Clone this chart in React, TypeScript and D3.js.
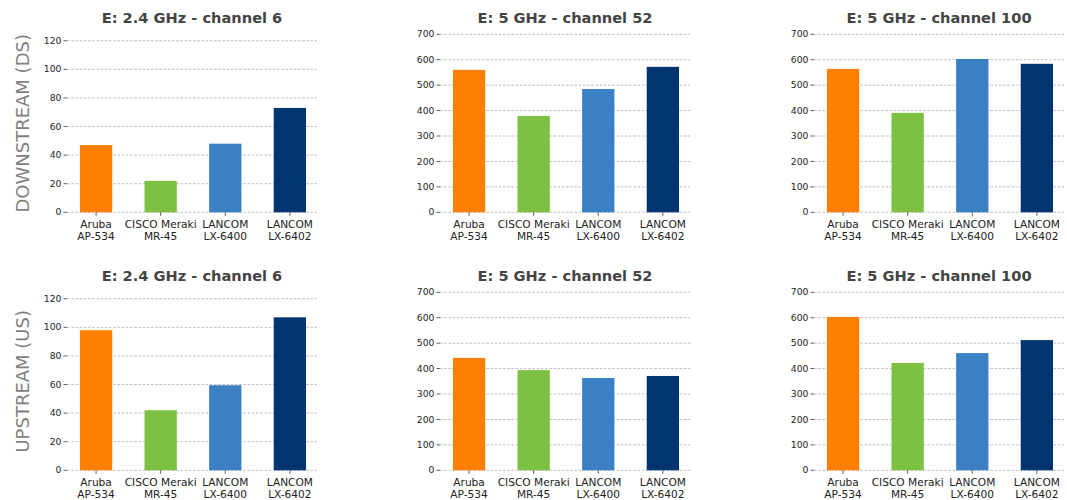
import React from "react";
import * as d3 from "d3";

const categories: string[][] = [
  ["Aruba", "AP-534"],
  ["CISCO Meraki", "MR-45"],
  ["LANCOM", "LX-6400"],
  ["LANCOM", "LX-6402"],
];
const barColors = ["#ff8000", "#7dc142", "#3b80c4", "#003570"];
const titles = ["E: 2.4 GHz - channel 6", "E: 5 GHz - channel 52", "E: 5 GHz - channel 100"];
const rowLabels = ["DOWNSTREAM (DS)", "UPSTREAM (US)"];

const ds24 = [47, 22, 48, 73];
const ds52 = [560, 379, 485, 572];
const ds100 = [564, 391, 603, 584];
const us24 = [98, 42, 59.5, 107];
const us52 = [442, 394, 363, 371];
const us100 = [603, 422, 461, 512];

const ticks24 = [0, 20, 40, 60, 80, 100, 120];
const ticks5 = [0, 100, 200, 300, 400, 500, 600, 700];

const rows = [
  [ds24, ds52, ds100],
  [us24, us52, us100],
];
const yMax = [124.5, 700, 700];
const yTicks = [ticks24, ticks5, ticks5];

const colLeft = [67, 440, 814];
const axW = 250;
const rowTop = [34.3, 292.3];
const axH = 178;
const font = "'DejaVu Sans', sans-serif";

function Panel({ left, top, values, ymax, ticks, title }: any) {
  const x = d3.scaleLinear().domain([-0.45, 3.42]).range([left, left + axW]);
  const y = d3.scaleLinear().domain([0, ymax]).range([top + axH, top]);
  const bw = x(0.5) - x(0);
  return (
    <g>
      {ticks.map((t: number) => (
        <g key={t}>
          <line x1={left} x2={left + axW} y1={y(t)} y2={y(t)} stroke="#b0b0b0" strokeWidth={0.8} strokeDasharray="2.6,1.6" />
          <line x1={left - 3.5} x2={left} y1={y(t)} y2={y(t)} stroke="#333" strokeWidth={0.8} />
          <text x={left - 5.5} y={y(t)} dy="0.34em" textAnchor="end" fontSize={9.3} fill="#262626" fontFamily={font}>
            {t}
          </text>
        </g>
      ))}
      {values.map((v: number, i: number) => (
        <rect key={i} x={x(i) - bw / 2} y={y(v)} width={bw} height={y(0) - y(v)} fill={barColors[i]} />
      ))}
      {categories.map((c, i) => (
        <g key={i}>
          <line x1={x(i)} x2={x(i)} y1={y(0)} y2={y(0) + 3.5} stroke="#333" strokeWidth={0.8} />
          {c.map((line, j) => (
            <text key={j} x={x(i)} y={y(0) + 16 + j * 12} textAnchor="middle" fontSize={10.6} fill="#222" fontFamily={font}>
              {line}
            </text>
          ))}
        </g>
      ))}
      <text x={left + axW / 2} y={top - 11} textAnchor="middle" fontSize={14.6} fontWeight="bold" fill="#444" fontFamily={font}>
        {title}
      </text>
    </g>
  );
}

export default function App() {
  return (
    <svg width={1067} height={500} style={{ position: "absolute", left: 0, top: 0, background: "#fff" }}>
      <rect width={1067} height={500} fill="#fff" />
      {rows.map((row, r) => (
        <g key={r}>
          <text
            transform={`translate(28.5, ${rowTop[r] + axH / 2}) rotate(-90)`}
            textAnchor="middle"
            fontSize={18}
            fill="#7f7f7f"
            fontFamily={font}
          >
            {rowLabels[r]}
          </text>
          {row.map((vals, c) => (
            <Panel key={c} left={colLeft[c]} top={rowTop[r]} values={vals} ymax={yMax[c]} ticks={yTicks[c]} title={titles[c]} />
          ))}
        </g>
      ))}
    </svg>
  );
}
